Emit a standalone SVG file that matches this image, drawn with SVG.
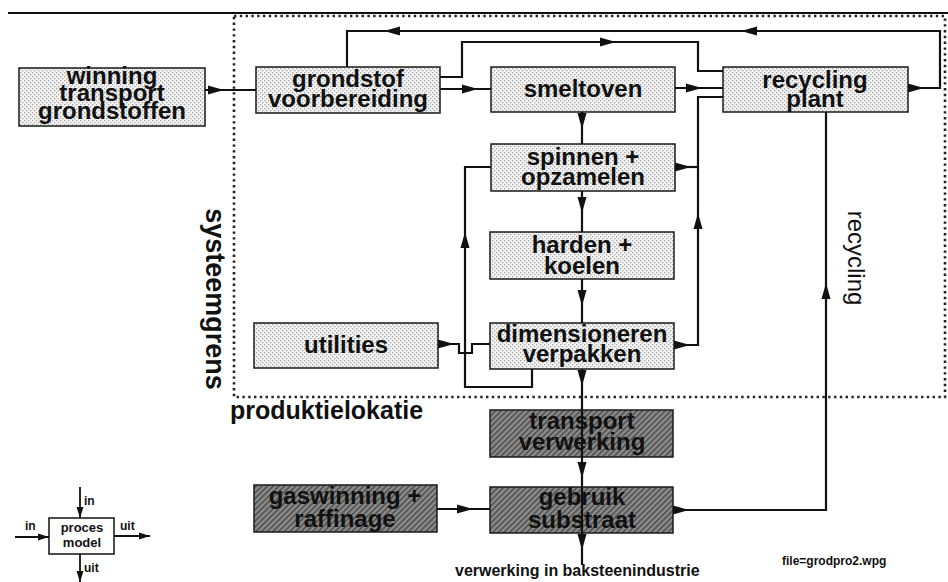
<svg xmlns="http://www.w3.org/2000/svg" xmlns:xlink="http://www.w3.org/1999/xlink" width="948" height="582" viewBox="0 0 948 582">
<style>
.box{stroke:#1a1a1a;stroke-width:1.5}
.light{fill:url(#dots)}
.dark{fill:url(#hatch)}
.t{font-family:"Liberation Sans",Arial,sans-serif;font-weight:bold;font-size:24px;fill:#111;text-anchor:middle}
.c{fill:none;stroke:#111;stroke-width:2.2}
.lc{fill:none;stroke:#111;stroke-width:1.8}
.bnd{fill:none;stroke:#222;stroke-width:2.6;stroke-dasharray:2.4 3.4}
.ah{fill:#111}
.s{font-family:"Liberation Sans",Arial,sans-serif;font-weight:bold;fill:#111}
</style>
<defs>
<pattern id="dots" width="4" height="4" patternUnits="userSpaceOnUse">
<rect width="4" height="4" fill="#f3f3f3"/>
<rect x="0" y="0" width="1.3" height="1.3" fill="#a8a8a8"/>
<rect x="2" y="2" width="1.3" height="1.3" fill="#a8a8a8"/>
</pattern>
<pattern id="hatch" width="4" height="4" patternUnits="userSpaceOnUse" patternTransform="rotate(45)">
<rect width="4" height="4" fill="#8c8c8c"/>
<rect width="1.6" height="4" fill="#4e4e4e"/>
</pattern>
<path id="ah" d="M0,-4.5 L16,0 L0,4.5 Z"/>
<path id="sah" d="M0,-3.5 L11,0 L0,3.5 Z"/>
</defs>
<rect width="948" height="582" fill="#fff"/>
<path d="M8,13 H948" stroke="#111" stroke-width="2"/>
<g id="systeemgrens-boundary">
<path class="bnd" d="M234,16 H945 V397 H234 Z"/>
</g>

<g id="connectors">
<path class="c" d="M205,90 H256"/>
<use href="#ah" class="ah" transform="translate(208,90)"/>
<path class="c" d="M440,89 H491"/>
<use href="#ah" class="ah" transform="translate(462,89)"/>
<path class="c" d="M440,77 H462 V42 H698 V71 H723"/>
<use href="#ah" class="ah" transform="translate(600,42)"/>
<path class="c" d="M908,88 H940 V31 H347 V67"/>
<use href="#ah" class="ah" transform="translate(908,88)"/>
<use href="#ah" class="ah" transform="translate(757,31) rotate(180)"/>
<use href="#ah" class="ah" transform="translate(400,31) rotate(180)"/>
<path class="c" d="M675,88 H723"/>
<use href="#ah" class="ah" transform="translate(686,88)"/>
<path class="c" d="M675,167 H698"/>
<use href="#ah" class="ah" transform="translate(675,167)"/>
<path class="c" d="M674,345 H698 V97 H723"/>
<use href="#ah" class="ah" transform="translate(674,345)"/>
<use href="#ah" class="ah" transform="translate(698,229) rotate(-90)"/>
<path class="c" d="M438,344 H459 V353 H472 V344 H490"/>
<use href="#ah" class="ah" transform="translate(438,344)"/>
<path class="c" d="M532,369 V387 H465 V167 H491"/>
<use href="#ah" class="ah" transform="translate(465,248) rotate(-90)"/>
<path class="c" d="M437,509 H490"/>
<use href="#ah" class="ah" transform="translate(457,509)"/>
<path class="c" d="M673,510 H826 V112"/>
<use href="#ah" class="ah" transform="translate(673,510)"/>
<use href="#ah" class="ah" transform="translate(826,299) rotate(-90)"/>
</g>

<g id="n-winning"><rect class="box light" x="19" y="68" width="186" height="58"/>
<text class="t" x="112" y="84">winning</text><text class="t" x="112" y="101">transport</text><text class="t" x="112" y="119">grondstoffen</text></g>
<g id="n-grondstof"><rect class="box light" x="256" y="67" width="184" height="46"/>
<text class="t" x="348" y="87">grondstof</text><text class="t" x="348" y="107">voorbereiding</text></g>
<g id="n-smeltoven"><rect class="box light" x="491" y="67" width="184" height="45"/>
<text class="t" x="583" y="97">smeltoven</text></g>
<g id="n-recycling"><rect class="box light" x="723" y="67" width="185" height="45"/>
<text class="t" x="815" y="88">recycling</text><text class="t" x="815" y="107">plant</text></g>
<g id="n-spinnen"><rect class="box light" x="491" y="144" width="184" height="47"/>
<text class="t" x="583" y="165">spinnen +</text><text class="t" x="583" y="185">opzamelen</text></g>
<g id="n-harden"><rect class="box light" x="490" y="232" width="184" height="47"/>
<text class="t" x="582" y="253">harden +</text><text class="t" x="582" y="274">koelen</text></g>
<g id="n-dimensioneren"><rect class="box light" x="490" y="323" width="184" height="46"/>
<text class="t" x="582" y="342">dimensioneren</text><text class="t" x="582" y="362">verpakken</text></g>
<g id="n-utilities"><rect class="box light" x="254" y="323" width="184" height="45"/>
<text class="t" x="346" y="353">utilities</text></g>
<g id="n-transport"><rect class="box dark" x="490" y="410" width="183" height="47"/>
<text class="t" x="582" y="429">transport</text><text class="t" x="582" y="450">verwerking</text></g>
<g id="n-gebruik"><rect class="box dark" x="490" y="487" width="183" height="46"/>
<text class="t" x="582" y="505">gebruik</text><text class="t" x="582" y="528">substraat</text></g>
<g id="n-gaswinning"><rect class="box dark" x="254" y="485" width="183" height="47"/>
<text class="t" x="345" y="504">gaswinning +</text><text class="t" x="345" y="527">raffinage</text></g>

<g id="main-flow">
<path class="c" d="M582,112 V144 M582,191 V232 M582,279 V323 M582,369 V565"/>
<use href="#ah" class="ah" transform="translate(582,113) rotate(90)"/>
<use href="#ah" class="ah" transform="translate(582,197) rotate(90)"/>
<use href="#ah" class="ah" transform="translate(582,290) rotate(90)"/>
<use href="#ah" class="ah" transform="translate(582,370) rotate(90)"/>
<use href="#ah" class="ah" transform="translate(582,462) rotate(90)"/>
<use href="#ah" class="ah" transform="translate(582,534) rotate(90)"/>
</g>

<g id="labels">
<text class="s" font-size="27" text-anchor="middle" transform="translate(206,299) rotate(90)">systeemgrens</text>
<text font-family="Liberation Sans, Arial, sans-serif" font-size="24" fill="#111" text-anchor="middle" transform="translate(848,258) rotate(90)">recycling</text>
<text class="s" font-size="25" x="230" y="419">produktielokatie</text>
<text class="s" font-size="16" x="455" y="576">verwerking in baksteenindustrie</text>
<text class="s" font-size="12" x="782" y="565">file=grodpro2.wpg</text>
</g>

<g id="legend">
<rect x="49" y="518" width="65" height="36" fill="#fff" stroke="#111" stroke-width="1.5"/>
<text class="s" font-size="13" text-anchor="middle" x="82" y="532">proces</text>
<text class="s" font-size="13" text-anchor="middle" x="82" y="547">model</text>
<path class="lc" d="M80,487 V518 M15,537 H49 M114,536 H150 M80,554 V582"/>
<use href="#sah" class="ah" transform="translate(80,507) rotate(90)"/>
<use href="#sah" class="ah" transform="translate(38,537)"/>
<use href="#sah" class="ah" transform="translate(139,536)"/>
<use href="#sah" class="ah" transform="translate(80,571) rotate(90)"/>
<text class="s" font-size="12" x="84" y="505">in</text>
<text class="s" font-size="12" x="25" y="530">in</text>
<text class="s" font-size="12" x="120" y="530">uit</text>
<text class="s" font-size="12" x="84" y="572">uit</text>
</g>
</svg>
